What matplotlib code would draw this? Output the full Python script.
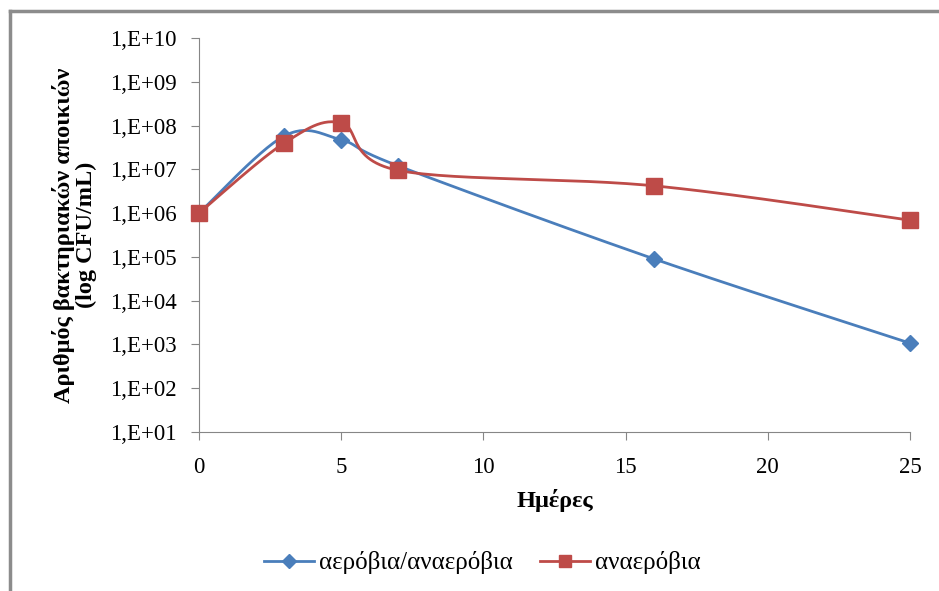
import numpy as np
import matplotlib.pyplot as plt
from matplotlib.lines import Line2D

days = [0, 3, 5, 7, 16, 25]
aerobic = [1.0e6, 5.8e7, 4.7e7, 1.2e7, 9.0e4, 1.07e3]
anaerobic = [1.0e6, 4.0e7, 1.15e8, 9.5e6, 4.2e6, 6.9e5]
labels = ["αερόβια/αναερόβια", "αναερόβια"]
ytick_vals = [10.0 ** k for k in range(1, 11)]
ytick_labels = ["1,E+%02d" % k for k in range(1, 11)]


def smooth(x, y, n=30):
    # Excel-like smoothed line: cubic Bezier through points (in x / log10 y space)
    x = np.asarray(x, float)
    ly = np.log10(np.asarray(y, float))
    px = np.concatenate([[x[0]], x, [x[-1]]])
    py = np.concatenate([[ly[0]], ly, [ly[-1]]])
    xs, ys = [], []
    t = np.linspace(0, 1, n)
    for i in range(1, len(px) - 2):
        p0 = np.array([px[i], py[i]])
        p3 = np.array([px[i + 1], py[i + 1]])
        c1 = p0 + (np.array([px[i + 1], py[i + 1]]) - np.array([px[i - 1], py[i - 1]])) / 6
        c2 = p3 - (np.array([px[i + 2], py[i + 2]]) - np.array([px[i], py[i]])) / 6
        b = ((1 - t) ** 3)[:, None] * p0 + (3 * (1 - t) ** 2 * t)[:, None] * c1 \
            + (3 * (1 - t) * t ** 2)[:, None] * c2 + (t ** 3)[:, None] * p3
        xs.extend(b[:, 0])
        ys.extend(b[:, 1])
    return np.array(xs), 10 ** np.array(ys)


plt.rcParams['font.family'] = ['Liberation Serif', 'DejaVu Serif']

fig = plt.figure(figsize=(9.39, 5.91), dpi=100)
ax = fig.add_axes([199 / 939, 1 - 432 / 591, (910 - 199) / 939, (432 - 38) / 591])

blue = '#4a7ebb'
red = '#be4b48'

sx, sy = smooth(days, aerobic)
ax.plot(sx, sy, color=blue, lw=2)
ax.plot(days, aerobic, ls='none', marker='D', ms=8, color=blue, clip_on=False, zorder=3)
sx, sy = smooth(days, anaerobic)
ax.plot(sx, sy, color=red, lw=2)
ax.plot(days, anaerobic, ls='none', marker='s', ms=11, color=red, clip_on=False, zorder=3)

ax.set_yscale('log')
ax.set_ylim(1e1, 1e10)
ax.set_xlim(0, 25)
ax.set_yticks(ytick_vals)
ax.set_yticklabels(ytick_labels)
ax.minorticks_off()
ax.set_xticks([0, 5, 10, 15, 20, 25])

for s in ['top', 'right']:
    ax.spines[s].set_visible(False)
for s in ['left', 'bottom']:
    ax.spines[s].set_color('#868686')
ax.tick_params(axis='both', colors='#868686', length=6, labelcolor='black', labelsize=16.5)
ax.tick_params(axis='y', pad=10)
ax.tick_params(axis='x', pad=12)

ax.set_xlabel("Ημέρες", fontsize=17.5, fontweight='bold', labelpad=8)
ax.set_ylabel("Αριθμός βακτηριακών αποικιών\n(log CFU/mL)", fontsize=17.5,
              fontweight='bold', linespacing=1.05)
ax.yaxis.set_label_coords(-0.143, 0.5)

handles = [Line2D([], [], color=blue, lw=2, marker='D', ms=7),
           Line2D([], [], color=red, lw=2, marker='s', ms=9)]
fig.legend(handles, labels, loc='center', bbox_to_anchor=(0.514, 1 - 563 / 591),
           ncol=2, frameon=False, fontsize=18, handlelength=2.0, columnspacing=1.1,
           handletextpad=0.2)

# chart area border (extends past right and bottom edges)
fig.add_artist(Line2D([10 / 939, 1.0], [1 - 11 / 591, 1 - 11 / 591],
                      color='#8c8c8c', lw=2.5, transform=fig.transFigure))
fig.add_artist(Line2D([10 / 939, 10 / 939], [0.0, 1 - 11 / 591],
                      color='#8c8c8c', lw=2.5, transform=fig.transFigure))

fig.savefig("out.png", dpi=100)
